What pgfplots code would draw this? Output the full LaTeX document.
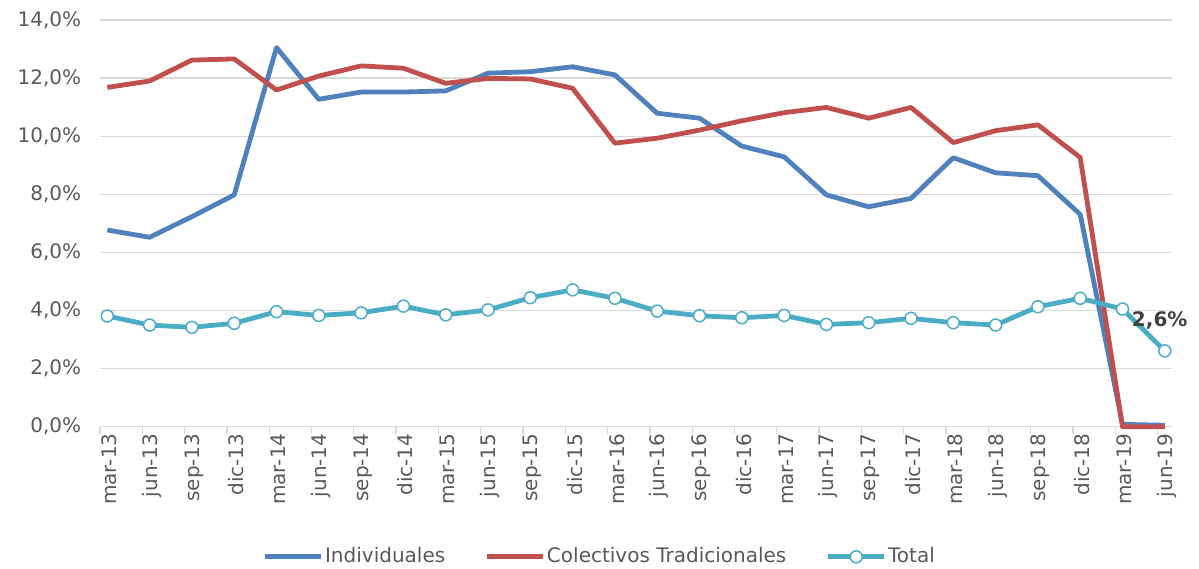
\documentclass[border=0pt]{standalone}
\usepackage{fontspec}
\setmainfont{DejaVu Sans}
\usepackage{pgfplots}
\pgfplotsset{compat=1.18}
\definecolor{cblue}{HTML}{4F81BD}
\definecolor{cred}{HTML}{C0504D}
\definecolor{cteal}{HTML}{4BACC6}
\definecolor{cgrid}{HTML}{D9D9D9}
\definecolor{ctext}{HTML}{595959}
\definecolor{clabel}{HTML}{404040}
\begin{document}
\fontsize{20bp}{24bp}\selectfont
\begin{tikzpicture}
\useasboundingbox (-100bp,-142.3bp) rectangle (1099bp,426.7bp);
\begin{axis}[
  at={(0,0)}, anchor=south west,
  scale only axis, width=1072bp, height=406.7bp,
  xmin=-0.173, xmax=25.17, ymin=0, ymax=14,
  clip=false,
  axis line style={draw=none},
  ytick={0,2,...,14},
  yticklabels={{0,0\%},{2,0\%},{4,0\%},{6,0\%},{8,0\%},{10,0\%},{12,0\%},{14,0\%}},
  ymajorgrids, grid style={cgrid, line width=1.3bp},
  xtick={0,...,25},
  xticklabels={mar-13,jun-13,sep-13,dic-13,mar-14,jun-14,sep-14,dic-14,mar-15,jun-15,sep-15,dic-15,mar-16,jun-16,sep-16,dic-16,mar-17,jun-17,sep-17,dic-17,mar-18,jun-18,sep-18,dic-18,mar-19,jun-19},
  minor xtick={-0.173,0.827,...,24.9},
  xtick pos=bottom, ytick pos=left,
  tick align=outside,
  major tick length=0pt, minor tick length=7bp,
  minor tick style={cgrid, line width=1.3bp},
  major tick style={draw=none},
  ytick style={draw=none},
  tick label style={font=\fontsize{20bp}{24bp}\selectfont, text=ctext},
  yticklabel style={anchor=east, xshift=-12bp},
  xticklabel style={rotate=90, anchor=east, yshift=-2bp, xshift=0bp},
  legend columns=3,
  legend style={draw=none, fill=none, at={(0.466,-0.320)}, anchor=center,
    font=\fontsize{20bp}{24bp}\selectfont, text=ctext,
    nodes={inner sep=1.5bp},
    /tikz/every even column/.append style={column sep=38bp}},
  legend image code/.code={\draw[#1, mark repeat=2, mark phase=2] plot coordinates {(0bp,0bp) (28bp,0bp) (56bp,0bp)};},
  every axis plot/.append style={line width=4.8bp, line join=round},
]
\addplot[cblue, mark=none] coordinates {
(0,6.77) (1,6.52) (2,7.23) (3,7.98) (4,13.05) (5,11.27) (6,11.52) (7,11.52) (8,11.56)
(9,12.17) (10,12.22) (11,12.39) (12,12.11) (13,10.79) (14,10.62) (15,9.66) (16,9.29)
(17,7.98) (18,7.57) (19,7.86) (20,9.26) (21,8.74) (22,8.64) (23,7.31) (24,0.08) (25,0.05)};
\addlegendentry{Individuales}
\addplot[cred, mark=none] coordinates {
(0,11.68) (1,11.90) (2,12.62) (3,12.66) (4,11.59) (5,12.07) (6,12.42) (7,12.34) (8,11.82)
(9,11.99) (10,11.97) (11,11.65) (12,9.76) (13,9.93) (14,10.21) (15,10.53) (16,10.81)
(17,10.99) (18,10.62) (19,10.99) (20,9.78) (21,10.19) (22,10.39) (23,9.27) (24,0.0) (25,0.0)};
\addlegendentry{Colectivos Tradicionales}
\addplot[cteal, mark=*, mark size=6bp, mark options={fill=white, draw=cteal, line width=1.5bp}] coordinates {
(0,3.81) (1,3.50) (2,3.42) (3,3.56) (4,3.96) (5,3.83) (6,3.92) (7,4.15) (8,3.85)
(9,4.02) (10,4.44) (11,4.71) (12,4.42) (13,3.98) (14,3.82) (15,3.75) (16,3.83)
(17,3.52) (18,3.58) (19,3.73) (20,3.58) (21,3.50) (22,4.13) (23,4.42) (24,4.05) (25,2.61)};
\addlegendentry{Total}
\node[text=clabel, font=\fontsize{20bp}{24bp}\selectfont\bfseries] at (axis cs:24.88,3.67) {2,6\%};
\end{axis}
\end{tikzpicture}
\end{document}
